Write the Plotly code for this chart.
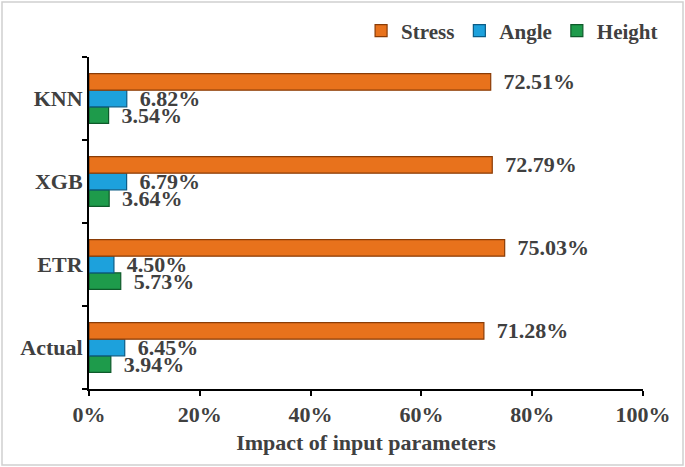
import plotly.graph_objects as go

categories = ["Actual", "ETR", "XGB", "KNN"]
stress = [71.28, 75.03, 72.79, 72.51]
angle = [6.45, 4.50, 6.79, 6.82]
height = [3.94, 5.73, 3.64, 3.54]
x_ticks = [0, 20, 40, 60, 80, 100]
x_tick_labels = ["0%", "20%", "40%", "60%", "80%", "100%"]

FONT = "Liberation Serif"
TXT = "#404040"
PAD = "\u00a0\u2009"

fig = go.Figure()
series = [
    ("Height", height, "#1E9B4B", "#0E5A2A", 3),
    ("Angle", angle, "#1DA1DC", "#0B5C86", 2),
    ("Stress", stress, "#E8721C", "#8A3C06", 1),
]
for name, vals, col, line, rank in series:
    fig.add_trace(go.Bar(
        y=categories, x=vals, name=f"<b>{name}</b>", orientation="h",
        marker=dict(color=col, line=dict(color=line, width=1.2)),
        text=[f"{v:.2f}%" for v in vals], textposition="outside",
        texttemplate=PAD + "<b>%{text}</b>",
        textfont=dict(family=FONT, size=22, color=TXT),
        constraintext="none", cliponaxis=False, legendrank=rank,
    ))

fig.update_layout(
    width=685, height=467,
    margin=dict(l=89, r=42, t=57, b=78),
    paper_bgcolor="white", plot_bgcolor="white",
    barmode="group", bargap=0.4, bargroupgap=0,
    font=dict(family=FONT, color=TXT),
    showlegend=True,
    legend=dict(orientation="h", xref="container", yref="container",
                x=0.968, xanchor="right", y=1 - 31 / 467, yanchor="middle",
                font=dict(family=FONT, size=21, color=TXT),
                itemwidth=30, tracegroupgap=0, bgcolor="rgba(0,0,0,0)"),
    xaxis=dict(range=[0, 100], tickvals=x_ticks,
               ticktext=[f"<b>{t}</b>" for t in x_tick_labels],
               showgrid=False, zeroline=False, showline=True, linecolor="black", linewidth=2,
               ticks="outside", ticklen=5, tickcolor="black", tickwidth=2,
               tickfont=dict(family=FONT, size=22, color=TXT), automargin=False,
               title=dict(text="<b>Impact of input parameters</b>",
                          font=dict(family=FONT, size=22, color=TXT), standoff=8)),
    yaxis=dict(categoryorder="array", categoryarray=categories,
               tickvals=categories, ticktext=[f"<b>{c}</b>" for c in categories],
               showgrid=False, showline=True, linecolor="black", linewidth=2,
               ticks="outside", ticklen=5, tickcolor="black", tickwidth=2,
               tickson="boundaries", automargin=False,
               tickfont=dict(family=FONT, size=22, color=TXT)),
    shapes=[dict(type="rect", xref="paper", yref="paper",
                 x0=(2 - 89) / 554, x1=(683 - 89) / 554,
                 y0=(389 - 465) / 332, y1=(389 - 2) / 332,
                 line=dict(color="#D0D0D0", width=1.5), fillcolor="rgba(0,0,0,0)")],
)

fig.write_html("out.html", config={"displayModeBar": False},
               post_script="document.body.style.margin='0';")
